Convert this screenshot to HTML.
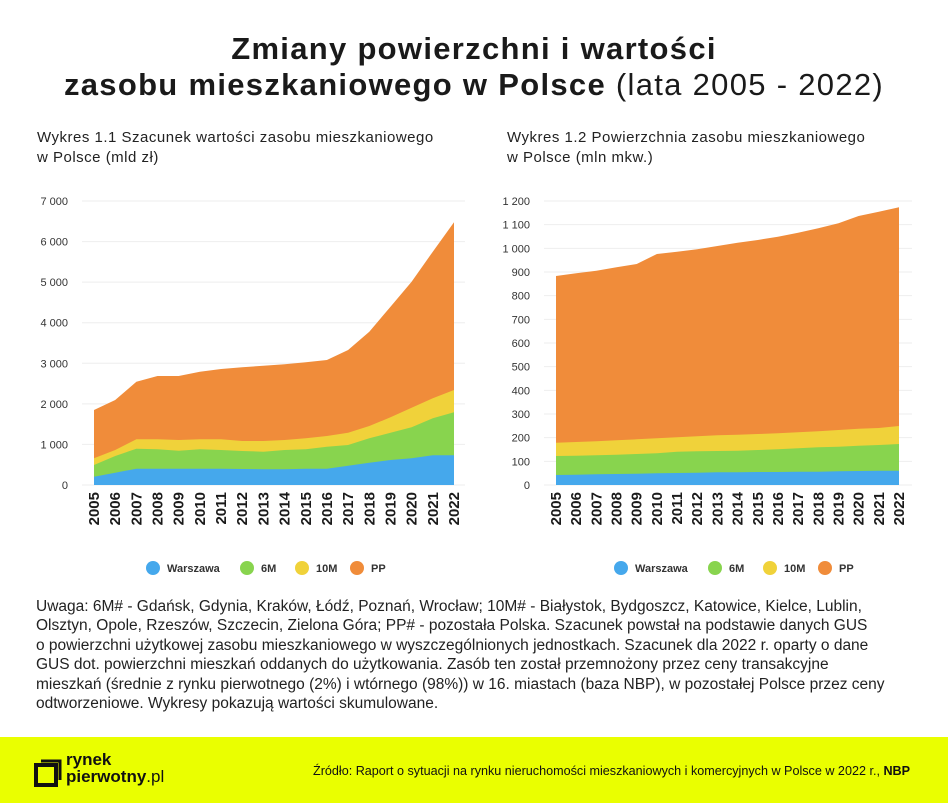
<!DOCTYPE html>
<html><head><meta charset="utf-8"><style>
body{margin:0;width:948px;height:803px;background:#fff;font-family:"Liberation Sans",sans-serif;position:relative;overflow:hidden;color:#222}
.t{position:absolute;left:0;width:948px;text-align:center;font-weight:bold;font-size:31px;color:#1a1a1a;letter-spacing:1.3px}
.sub{position:absolute;font-size:15px;line-height:20px;color:#222;letter-spacing:0.5px}
.note{position:absolute;left:36px;top:597px;font-size:15.5px;line-height:19.4px;color:#222;white-space:nowrap}
.foot{position:absolute;left:0;top:737px;width:948px;height:66px;background:#eaff00}
</style></head><body>
<div class="t" style="top:31px">Zmiany powierzchni i wartości</div>
<div class="t" style="top:67px">zasobu mieszkaniowego w Polsce <span style="font-weight:normal">(lata 2005 - 2022)</span></div>
<div class="sub" style="left:37px;top:128px">Wykres 1.1 Szacunek wartości zasobu mieszkaniowego<br>w Polsce (mld zł)</div>
<div class="sub" style="left:507px;top:128px">Wykres 1.2 Powierzchnia zasobu mieszkaniowego<br>w Polsce (mln mkw.)</div>
<svg id="s" width="948" height="600" style="position:absolute;left:0;top:0"></svg>
<div class="note">Uwaga: 6M# - Gdańsk, Gdynia, Kraków, Łódź, Poznań, Wrocław; 10M# - Białystok, Bydgoszcz, Katowice, Kielce, Lublin,<br>Olsztyn, Opole, Rzeszów, Szczecin, Zielona Góra; PP# - pozostała Polska. Szacunek powstał na podstawie danych GUS<br>o powierzchni użytkowej zasobu mieszkaniowego w wyszczególnionych jednostkach. Szacunek dla 2022 r. oparty o dane<br>GUS dot. powierzchni mieszkań oddanych do użytkowania. Zasób ten został przemnożony przez ceny transakcyjne<br>mieszkań (średnie z rynku pierwotnego (2%) i wtórnego (98%)) w 16. miastach (baza NBP), w pozostałej Polsce przez ceny<br>odtworzeniowe. Wykresy pokazują wartości skumulowane.</div>
<div class="foot">
<svg width="30" height="30" style="position:absolute;left:32px;top:22px"><path d="M4 6 H24 V26 H4 Z" fill="none" stroke="#111" stroke-width="4"/><path d="M9 2 H28 V21" fill="none" stroke="#111" stroke-width="3"/></svg>
<div style="position:absolute;left:66px;top:14px;font-size:17px;line-height:17px;font-weight:bold;color:#111">rynek<br>pierwotny<span style="font-weight:normal">.pl</span></div>
<div style="position:absolute;left:313px;top:27px;font-size:12.6px;color:#111;white-space:nowrap">Źródło: Raport o sytuacji na rynku nieruchomości mieszkaniowych i komercyjnych w Polsce w 2022 r., <b>NBP</b></div>
</div>
<script>
var s=document.getElementById('s'),h='';
var C=['#f08c3a','#f0d23a','#88d44e','#45a8ec'];
function chart(ox,oy,x0,x1,base,series,pl,pr,ytop,ticks){
 var Y=function(z){return oy+z/3};
 var X=function(i){return x0+(x1-x0)*i/17};
 var b=oy+base/3;
 for(var k=0;k<ticks.length;k++){var ty=b-(b-ytop)*k/(ticks.length-1);
  h+='<line x1="'+pl+'" x2="'+pr+'" y1="'+ty+'" y2="'+ty+'" stroke="#eee"/>';
  h+='<text x="'+(pl-14)+'" y="'+(ty+4)+'" font-size="11" text-anchor="end" fill="#333">'+ticks[k]+'</text>';}
 for(var j=0;j<4;j++){var a=series[j],d='M'+X(0)+' '+b;
  for(var i=0;i<18;i++)d+=' L'+X(i).toFixed(1)+' '+Y(a[i]).toFixed(1);
  d+=' L'+X(17)+' '+b+'Z';h+='<path d="'+d+'" fill="'+C[j]+'"/>';}
 for(var i=0;i<18;i++){var x=X(i)+5;
  h+='<text transform="translate('+x+',492) rotate(-90)" font-size="15" font-weight="bold" text-anchor="end" fill="#1a1a1a">'+(2005+i)+'</text>';}
}
chart(30,180,94,454,915,[
[690,660,605,588,588,575,567,562,557,553,547,540,510,455,380,305,215,127],
[835,810,778,778,780,778,778,783,783,780,775,768,758,738,712,683,655,630],
[855,828,806,808,812,808,810,813,815,810,808,800,795,775,758,742,715,697],
[890,878,866,866,866,866,866,867,868,868,866,866,857,848,840,835,826,826]],82,465,201,
['0','1 000','2 000','3 000','4 000','5 000','6 000','7 000']);
chart(500,180,556,899,915,[
[288,280,272,262,252,222,215,208,198,188,180,170,158,145,130,108,95,82],
[788,786,784,781,778,775,772,769,766,764,762,760,757,754,750,746,744,738],
[828,827,826,824,822,820,815,814,813,812,810,808,805,802,800,797,795,792],
[885,884,883,882,881,880,879,878,877,877,876,876,875,875,874,873,872,872]],544,912,201,
['0','100','200','300','400','500','600','700','800','900','1 000','1 100','1 200']);
function leg(x){var L=['Warszawa','6M','10M','PP'],cc=['#45a8ec','#88d44e','#f0d23a','#f08c3a'],o=[0,94,149,204];
 for(var i=0;i<4;i++){h+='<circle cx="'+(x+o[i])+'" cy="568" r="7" fill="'+cc[i]+'"/><text x="'+(x+o[i]+14)+'" y="572" font-size="11" font-weight="bold" fill="#333">'+L[i]+'</text>';}}
leg(153);leg(621);
s.innerHTML=h;
</script>
</body></html>
